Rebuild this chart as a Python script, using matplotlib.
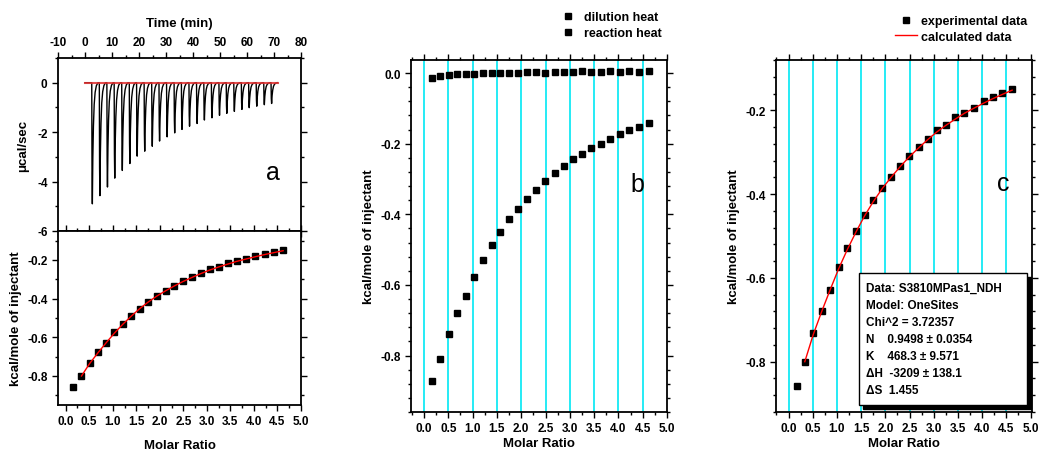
"""ITC titration figure: raw heat trace (a), dilution vs reaction heat (b), fit (c)"""
import matplotlib
matplotlib.use("Agg")
from matplotlib import pyplot as plt
from matplotlib.patches import Rectangle
from matplotlib.ticker import MultipleLocator

plt.rcParams['font.family'] = ['Liberation Sans', 'DejaVu Sans']
plt.rcParams['font.weight'] = 'bold'
plt.rcParams['axes.unicode_minus'] = False

# raw trace: injection times (min) and peak depths (ucal/sec)
inj_time = [2.5, 5.3, 8.1, 10.8, 13.6, 16.4, 19.1, 21.9, 24.7, 27.4, 30.2, 33.0, 35.7,
            38.5, 41.3, 44.0, 46.8, 49.6, 52.3, 55.1, 57.9, 60.6, 63.4, 66.2, 68.9]
peak_depth = [-4.90, -4.57, -4.22, -3.86, -3.55, -3.27, -2.97, -2.77, -2.57, -2.36, -2.19,
              -2.03, -1.89, -1.76, -1.65, -1.51, -1.42, -1.32, -1.24, -1.16, -1.08, -1.01,
              -0.95, -0.89, -0.84]
# shape of one injection peak (offset in min, fraction of depth)
peak_dt = [0.0, 0.10, 0.22, 0.40, 0.62, 0.90, 1.25, 1.70, 2.30]
peak_frac = [0.0, 0.75, 1.0, 0.62, 0.36, 0.18, 0.08, 0.025, 0.0]
baseline_end = 71.5

# integrated heats
molar_ratio = [0.165, 0.335, 0.51, 0.685, 0.86, 1.035, 1.215, 1.395, 1.57, 1.75, 1.94, 2.125,
               2.31, 2.495, 2.685, 2.875, 3.06, 3.25, 3.445, 3.635, 3.83, 4.03, 4.225, 4.42, 4.62]
dilution_heat = [-0.014, -0.009, -0.006, -0.003, -0.003, -0.002, -0.001, 0.0, -0.001, 0.0,
                 0.001, 0.002, 0.002, 0.001, 0.003, 0.004, 0.002, 0.005, 0.004, 0.004,
                 0.005, 0.004, 0.005, 0.004, 0.005]
reaction_heat = [-0.873, -0.811, -0.739, -0.681, -0.631, -0.577, -0.529, -0.488, -0.451,
                 -0.414, -0.384, -0.357, -0.331, -0.307, -0.284, -0.263, -0.242, -0.229,
                 -0.213, -0.200, -0.186, -0.172, -0.161, -0.152, -0.142]
corrected_heat = [-0.857, -0.800, -0.732, -0.678, -0.628, -0.574, -0.529, -0.489, -0.451,
                  -0.415, -0.385, -0.360, -0.333, -0.308, -0.288, -0.269, -0.247, -0.236,
                  -0.217, -0.206, -0.194, -0.178, -0.168, -0.159, -0.150]
fit_ratio = molar_ratio[1:]
fit_heat = [-0.800, -0.735, -0.680, -0.628, -0.578, -0.532, -0.490, -0.452, -0.418, -0.386,
            -0.359, -0.334, -0.311, -0.290, -0.270, -0.252, -0.236, -0.221, -0.207, -0.195,
            -0.183, -0.172, -0.162, -0.152]

fit_text = ["Data: S3810MPas1_NDH", "Model: OneSites", "Chi^2 = 3.72357",
            "N    0.9498 \u00b1 0.0354", "K    468.3 \u00b1 9.571",
            "\u0394H  -3209 \u00b1 138.1", "\u0394S  1.455"]

W, H = 1041, 452
GRID = '#00E8F4'


def px_axes(fig, left, top, right, bottom):
    return fig.add_axes([left / W, 1 - bottom / H, (right - left) / W, (bottom - top) / H])


def style(ax):
    for s in ax.spines.values():
        s.set_linewidth(1.3)
    ax.tick_params(which='both', labelsize=8.5, width=1.0, top=True, right=True)
    ax.tick_params(which='major', length=4)
    ax.tick_params(which='minor', length=2.5)
    ax.tick_params(axis='y', which='both', right=True, direction='out')
    for lab in ax.get_xticklabels() + ax.get_yticklabels():
        lab.set_fontweight('bold')


fig = plt.figure(figsize=(W / 100, H / 100), dpi=100)

# ---- panel a, raw trace
ax_raw = px_axes(fig, 58, 59, 301, 232)
t, y = [0.0], [0.0]
for t0, d in zip(inj_time, peak_depth):
    for dt, f in zip(peak_dt, peak_frac):
        t.append(t0 + dt)
        y.append(d * f)
ax_raw.plot(t, y, color='black', lw=1.0)
ax_raw.plot([0, baseline_end], [0, 0], color='#e03030', lw=1.5, alpha=0.85)
ax_raw.set_xlim(-10, 80)
ax_raw.set_ylim(-6, 1)
ax_raw.xaxis.set_major_locator(MultipleLocator(10))
ax_raw.xaxis.set_minor_locator(MultipleLocator(5))
ax_raw.yaxis.set_major_locator(MultipleLocator(2))
ax_raw.yaxis.set_minor_locator(MultipleLocator(1))
ax_raw.xaxis.tick_top()
ax_raw.xaxis.set_label_position('top')
ax_raw.set_xlabel('Time (min)', fontsize=9.5, fontweight='bold', labelpad=7)
ax_raw.set_ylabel('\u03bccal/sec', fontsize=9.5, fontweight='bold', labelpad=6)
style(ax_raw)
ax_raw.tick_params(axis='x', which='both', top=True, bottom=True, labeltop=True,
                   labelbottom=False, direction='out')
ax_raw.text(272.7 / W, 1 - 172.7 / H, 'a', transform=fig.transFigure, fontsize=18,
            fontweight='normal', ha='center', va='center')

# ---- panel a, integrated heats with fit
ax_a = px_axes(fig, 58, 232, 301, 406)
ax_a.plot(molar_ratio, corrected_heat, 's', color='black', ms=5)
ax_a.plot(fit_ratio, fit_heat, color='red', lw=1.0)
ax_a.set_xlim(-0.164, 5.0)
ax_a.set_ylim(-0.95, -0.05)
ax_a.xaxis.set_major_locator(MultipleLocator(0.5))
ax_a.xaxis.set_minor_locator(MultipleLocator(0.25))
ax_a.yaxis.set_major_locator(MultipleLocator(0.2))
ax_a.yaxis.set_minor_locator(MultipleLocator(0.1))
ax_a.set_xlabel('Molar Ratio', fontsize=9.5, fontweight='bold', labelpad=8)
ax_a.set_ylabel('kcal/mole of injectant', fontsize=9.5, fontweight='bold', labelpad=4)
ax_a.xaxis.set_major_formatter(plt.FormatStrFormatter('%.1f'))
ax_a.yaxis.set_major_formatter(plt.FormatStrFormatter('%.1f'))
style(ax_a)
ax_a.tick_params(axis='x', which='both', direction='out')

# ---- panel b, dilution and reaction heat
ax_b = px_axes(fig, 411, 61, 667, 413)
for xv in [0.0, 0.5, 1.0, 1.5, 2.0, 2.5, 3.0, 3.5, 4.0, 4.5]:
    ax_b.axvline(xv, color=GRID, lw=1.2, zorder=0)
ax_b.plot(molar_ratio, dilution_heat, 's', color='black', ms=5, label='dilution heat')
ax_b.plot(molar_ratio, reaction_heat, 's', color='black', ms=5, label='reaction heat')
ax_b.set_xlim(-0.268, 5.0)
ax_b.set_ylim(-0.96, 0.037)
ax_b.xaxis.set_major_locator(MultipleLocator(0.5))
ax_b.xaxis.set_minor_locator(MultipleLocator(0.25))
ax_b.yaxis.set_major_locator(MultipleLocator(0.2))
ax_b.yaxis.set_minor_locator(MultipleLocator(0.04))
ax_b.xaxis.set_major_formatter(plt.FormatStrFormatter('%.1f'))
ax_b.yaxis.set_major_formatter(plt.FormatStrFormatter('%.1f'))
ax_b.set_xlabel('Molar Ratio', fontsize=9.5, fontweight='bold', labelpad=2)
ax_b.set_ylabel('kcal/mole of injectant', fontsize=9.5, fontweight='bold', labelpad=4)
style(ax_b)
ax_b.tick_params(axis='x', which='both', direction='out')
ax_b.legend(loc='upper left', bbox_to_anchor=(562 / W, 1 - 12 / H),
            bbox_transform=fig.transFigure, frameon=False, borderpad=0,
            borderaxespad=0, handlelength=1.0, handletextpad=0.75, labelspacing=0.35,
            markerscale=0.8, prop={'size': 9, 'weight': 'bold'})
ax_b.text(637.7 / W, 1 - 185 / H, 'b', transform=fig.transFigure, fontsize=18,
          fontweight='normal', ha='center', va='center')

# ---- panel c, corrected heat with fit
ax_c = px_axes(fig, 776, 61, 1032, 413)
for xv in [0.0, 0.5, 1.0, 1.5, 2.0, 2.5, 3.0, 3.5, 4.0, 4.5]:
    ax_c.axvline(xv, color=GRID, lw=1.2, zorder=0)
ax_c.plot(molar_ratio, corrected_heat, 's', color='black', ms=5, label='experimental data')
ax_c.plot(fit_ratio, fit_heat, color='red', lw=1.0, label='calculated data')
ax_c.set_xlim(-0.26, 5.03)
ax_c.set_ylim(-0.92, -0.08)
ax_c.xaxis.set_major_locator(MultipleLocator(0.5))
ax_c.xaxis.set_minor_locator(MultipleLocator(0.25))
ax_c.yaxis.set_major_locator(MultipleLocator(0.2))
ax_c.yaxis.set_minor_locator(MultipleLocator(0.04))
ax_c.xaxis.set_major_formatter(plt.FormatStrFormatter('%.1f'))
ax_c.yaxis.set_major_formatter(plt.FormatStrFormatter('%.1f'))
ax_c.set_xlabel('Molar Ratio', fontsize=9.5, fontweight='bold', labelpad=2)
ax_c.set_ylabel('kcal/mole of injectant', fontsize=9.5, fontweight='bold', labelpad=4)
style(ax_c)
ax_c.tick_params(axis='x', which='both', direction='out')
ax_c.legend(loc='upper left', bbox_to_anchor=(895 / W, 1 - 16 / H),
            bbox_transform=fig.transFigure, frameon=False, borderpad=0,
            borderaxespad=0, handlelength=1.75, handletextpad=0.3, labelspacing=0.3,
            markerscale=0.8, prop={'size': 9, 'weight': 'bold'})
ax_c.text(1003.3 / W, 1 - 184.3 / H, 'c', transform=fig.transFigure, fontsize=18,
          fontweight='normal', ha='center', va='center')

# fit result box with drop shadow
bx0, by0, bx1, by1 = 859, 274, 1027, 406
fig.patches.append(Rectangle(((bx0 + 4) / W, 1 - (by1 + 4) / H), (bx1 - bx0) / W,
                             (by1 - by0) / H, transform=fig.transFigure,
                             facecolor='black', edgecolor='black', zorder=5))
fig.patches.append(Rectangle((bx0 / W, 1 - by1 / H), (bx1 - bx0) / W, (by1 - by0) / H,
                             transform=fig.transFigure, facecolor='white',
                             edgecolor='black', lw=1.0, zorder=6))
for i, line in enumerate(fit_text):
    fig.text(866 / W, 1 - (289 + 17 * i) / H, line, fontsize=8.5, fontweight='bold',
             ha='left', va='center', zorder=7)

fig.savefig('out.png', dpi=100)
